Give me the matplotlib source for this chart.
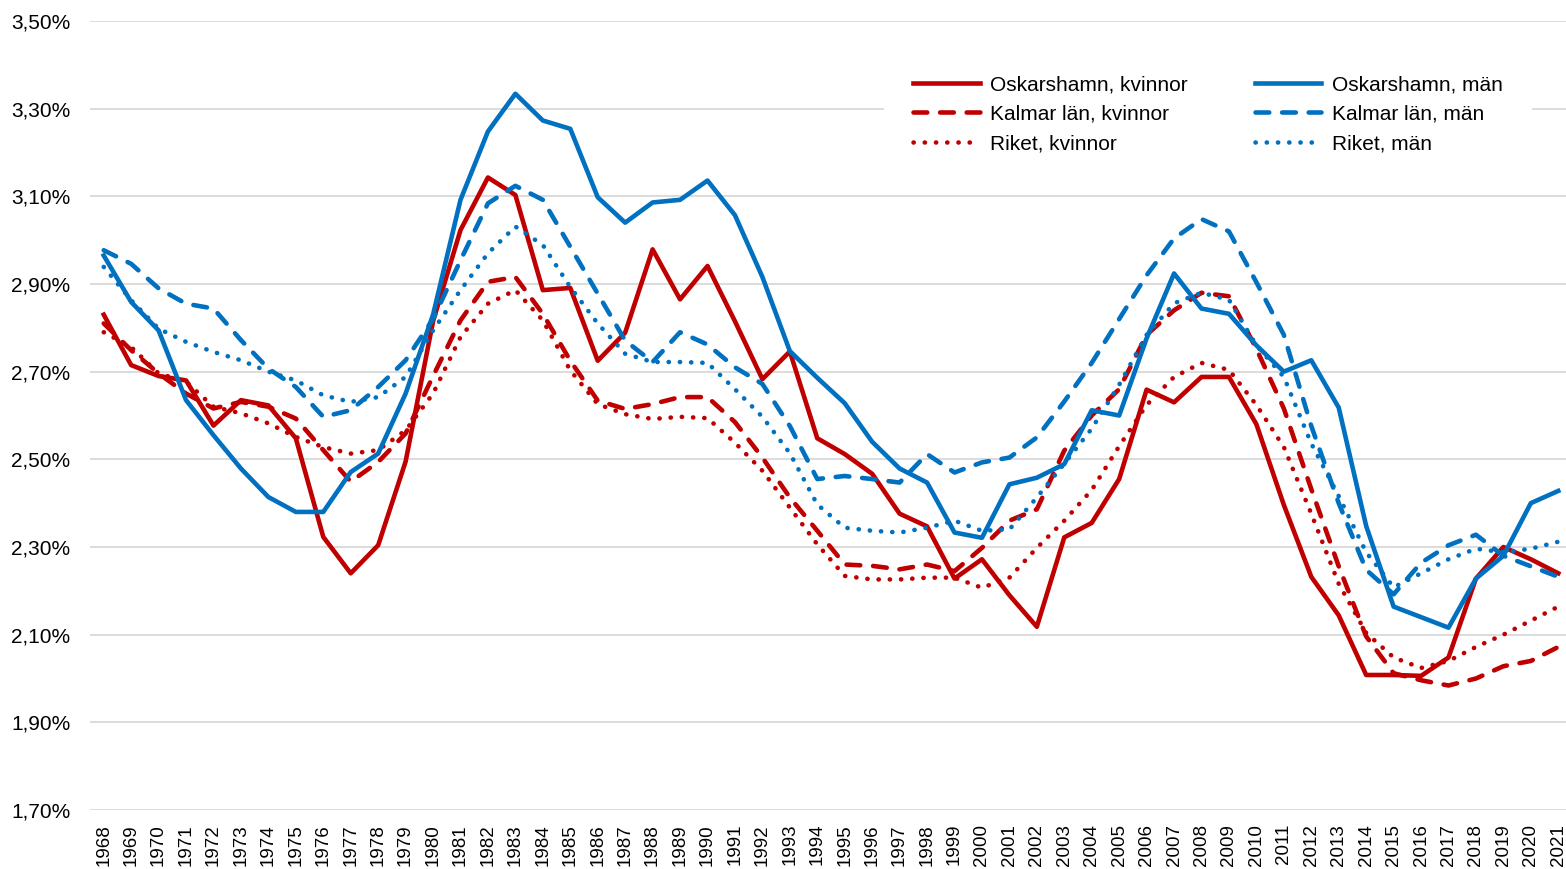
import matplotlib
matplotlib.use('Agg')
import matplotlib.pyplot as plt
from matplotlib.ticker import FuncFormatter

plt.rcParams['font.family'] = ['Liberation Sans', 'DejaVu Sans']

years = list(range(1968, 2022))

# andel i procent
osk_kv = [2.83, 2.715, 2.69, 2.68, 2.577, 2.635, 2.623, 2.548, 2.323, 2.24,
          2.304, 2.495, 2.815, 3.023, 3.143, 3.103, 2.886, 2.891, 2.725, 2.789,
          2.979, 2.865, 2.941, 2.815, 2.683, 2.746, 2.548, 2.512, 2.467, 2.376,
          2.347, 2.228, 2.272, 2.19, 2.118, 2.322, 2.355, 2.455, 2.659, 2.63,
          2.688, 2.688, 2.58, 2.396, 2.232, 2.144, 2.008, 2.008, 2.006, 2.048,
          2.228, 2.30, 2.272, 2.24]
kal_kv = [2.81, 2.749, 2.696, 2.65, 2.616, 2.631, 2.62, 2.593, 2.521, 2.449,
          2.494, 2.559, 2.69, 2.817, 2.905, 2.916, 2.832, 2.725, 2.634, 2.615,
          2.626, 2.642, 2.642, 2.585, 2.504, 2.413, 2.337, 2.26, 2.257, 2.249,
          2.26, 2.245, 2.298, 2.36, 2.386, 2.52, 2.60, 2.66, 2.784, 2.84,
          2.88, 2.872, 2.752, 2.616, 2.432, 2.256, 2.096, 2.012, 1.996, 1.984,
          2.0, 2.028, 2.04, 2.072]
rik_kv = [2.79, 2.756, 2.696, 2.677, 2.62, 2.605, 2.582, 2.551, 2.528, 2.513,
          2.521, 2.566, 2.65, 2.779, 2.855, 2.886, 2.817, 2.703, 2.626, 2.603,
          2.592, 2.597, 2.594, 2.538, 2.474, 2.39, 2.306, 2.234, 2.226, 2.226,
          2.23, 2.23, 2.207, 2.23, 2.298, 2.36, 2.43, 2.53, 2.624, 2.688,
          2.72, 2.704, 2.624, 2.528, 2.376, 2.216, 2.104, 2.048, 2.024, 2.04,
          2.072, 2.10, 2.132, 2.164]
osk_man = [2.965, 2.859, 2.794, 2.635, 2.555, 2.479, 2.414, 2.38, 2.38, 2.471,
           2.513, 2.65, 2.83, 3.092, 3.248, 3.334, 3.273, 3.254, 3.098, 3.04,
           3.086, 3.092, 3.136, 3.057, 2.916, 2.747, 2.686, 2.628, 2.54, 2.479,
           2.447, 2.333, 2.321, 2.443, 2.458, 2.489, 2.612, 2.60, 2.776, 2.924,
           2.844, 2.832, 2.76, 2.70, 2.726, 2.618, 2.348, 2.164, 2.14, 2.116,
           2.228, 2.28, 2.40, 2.428]
kal_man = [2.977, 2.946, 2.89, 2.855, 2.844, 2.772, 2.707, 2.665, 2.597, 2.612,
           2.665, 2.726, 2.82, 2.954, 3.084, 3.124, 3.092, 2.985, 2.878, 2.771,
           2.722, 2.79, 2.762, 2.71, 2.672, 2.576, 2.455, 2.462, 2.455, 2.447,
           2.512, 2.47, 2.493, 2.504, 2.55, 2.632, 2.72, 2.82, 2.92, 3.004,
           3.048, 3.02, 2.904, 2.784, 2.576, 2.40, 2.248, 2.192, 2.264, 2.304,
           2.328, 2.28, 2.256, 2.232]
rik_man = [2.939, 2.863, 2.798, 2.768, 2.745, 2.726, 2.70, 2.68, 2.646, 2.631,
           2.642, 2.688, 2.794, 2.886, 2.97, 3.031, 2.989, 2.893, 2.81, 2.741,
           2.722, 2.722, 2.72, 2.66, 2.597, 2.514, 2.397, 2.344, 2.337, 2.333,
           2.344, 2.36, 2.337, 2.34, 2.413, 2.49, 2.57, 2.67, 2.784, 2.856,
           2.88, 2.864, 2.76, 2.688, 2.536, 2.416, 2.288, 2.208, 2.24, 2.272,
           2.296, 2.288, 2.296, 2.312]

rod = '#C00000'
bla = '#0070C0'
lw = 3.3
streck = (0, (3.0, 2.8))   # streckad linje
prick = (0, (0.05, 2.4))   # prickad linje

fig = plt.figure(figsize=(15.66, 8.69), dpi=100)
ax = fig.add_axes([90/1566, 59/869, 1482/1566, 789/869])

ax.plot(years, osk_kv, color=rod, lw=lw, solid_joinstyle='round', label='Oskarshamn, kvinnor')
ax.plot(years, kal_kv, color=rod, lw=lw, linestyle=streck, dash_capstyle='round', label='Kalmar län, kvinnor')
ax.plot(years, rik_kv, color=rod, lw=lw, linestyle=prick, dash_capstyle='round', label='Riket, kvinnor')
ax.plot(years, osk_man, color=bla, lw=lw, solid_joinstyle='round', label='Oskarshamn, män')
ax.plot(years, kal_man, color=bla, lw=lw, linestyle=streck, dash_capstyle='round', label='Kalmar län, män')
ax.plot(years, rik_man, color=bla, lw=lw, linestyle=prick, dash_capstyle='round', label='Riket, män')

ax.set_xlim(1967.5, 2021.5)
ax.set_ylim(1.70, 3.50)
ax.set_yticks([1.70 + 0.2*i for i in range(10)])
ax.yaxis.set_major_formatter(FuncFormatter(lambda v, p: ('%.2f%%' % v).replace('.', ',')))
ax.set_xticks(years)
ax.set_xticklabels([str(y) for y in years], rotation=90, fontsize=13.5)
ax.tick_params(axis='y', length=0, pad=14, labelsize=15)
ax.tick_params(axis='x', length=0, pad=10)
ax.grid(axis='y', color='#D9D9D9', lw=1.3)
ax.set_axisbelow(True)
for s in ax.spines.values():
    s.set_visible(False)

leg = ax.legend(ncol=2, loc='upper left', bbox_to_anchor=(884/1566, 1 - 46/869),
                bbox_transform=fig.transFigure, fontsize=15, frameon=True,
                handlelength=3.2, handletextpad=0.5, columnspacing=3.2,
                labelspacing=0.5, borderpad=1.4, borderaxespad=0, fancybox=False)
leg.get_frame().set_facecolor('white')
leg.get_frame().set_edgecolor('none')
leg.get_frame().set_alpha(1)

fig.savefig('out.png', dpi=100)
